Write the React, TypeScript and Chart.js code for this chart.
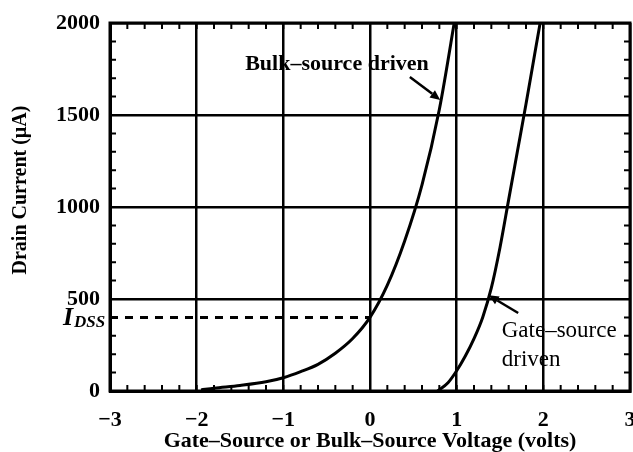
import React, { useEffect, useRef } from 'react';
import { Chart, registerables } from 'chart.js';

Chart.register(...registerables);

// ---- data ----
const bulkVolts = [-1.95, -1.8, -1.5, -1.2, -1.0, -0.8, -0.6, -0.4, -0.2, 0.0, 0.2, 0.4, 0.6, 0.8, 1.0];
const bulkCurrent = [6, 15, 30, 50, 72, 105, 145, 205, 285, 400, 575, 815, 1120, 1530, 2080];

const gateVolts = [0.78, 0.9, 1.0, 1.1, 1.2, 1.3, 1.4, 1.5, 1.6, 1.7, 1.8, 1.9, 2.0];
const gateCurrent = [0, 45, 110, 190, 285, 400, 560, 780, 1040, 1300, 1560, 1830, 2100];

const idssVolts = [-3, 0];
const idssCurrent = [400, 400];

const xTickValues = [-3, -2, -1, 0, 1, 2, 3];
const xTickLabels = ['\u22123', '\u22122', '\u22121', '0', '1', '2', '3'];
const yTickValues = [0, 500, 1000, 1500, 2000];
const yTickLabels = ['0', '500', '1000', '1500', '2000'];

const xTitle = 'Gate\u2013Source or Bulk\u2013Source Voltage (volts)';
const yTitle = 'Drain Current (\u00b5A)';
const bulkLabel = 'Bulk\u2013source driven';
const gateLabel1 = 'Gate\u2013source';
const gateLabel2 = 'driven';

const FONT = "'Liberation Serif', 'Times New Roman', serif";

function arrow(ctx: CanvasRenderingContext2D, x1: number, y1: number, x2: number, y2: number) {
  ctx.save();
  ctx.strokeStyle = '#000';
  ctx.fillStyle = '#000';
  ctx.lineWidth = 2.5;
  const ang = Math.atan2(y2 - y1, x2 - x1);
  const hl = 10;
  const bx = x2 - hl * Math.cos(ang);
  const by = y2 - hl * Math.sin(ang);
  ctx.beginPath();
  ctx.moveTo(x1, y1);
  ctx.lineTo(bx, by);
  ctx.stroke();
  ctx.beginPath();
  ctx.moveTo(x2, y2);
  ctx.lineTo(bx + 4.5 * Math.sin(ang), by - 4.5 * Math.cos(ang));
  ctx.lineTo(bx - 4.5 * Math.sin(ang), by + 4.5 * Math.cos(ang));
  ctx.closePath();
  ctx.fill();
  ctx.restore();
}

const decorPlugin = {
  id: 'decor',
  afterDraw(chart: any) {
    const { ctx, chartArea } = chart;
    const xs = chart.scales.x;
    const ys = chart.scales.y;
    const { left, right, top, bottom } = chartArea;
    ctx.save();
    // frame
    ctx.strokeStyle = '#000';
    ctx.lineWidth = 3;
    ctx.strokeRect(left, top, right - left, bottom - top);
    // minor ticks
    ctx.lineWidth = 2;
    ctx.beginPath();
    for (let i = 0; i <= 30; i++) {
      const px = xs.getPixelForValue(xs.min + i * 0.2);
      ctx.moveTo(px, bottom);
      ctx.lineTo(px, bottom - 6);
      ctx.moveTo(px, top);
      ctx.lineTo(px, top + 6);
    }
    for (let i = 0; i <= 20; i++) {
      const py = ys.getPixelForValue(ys.min + i * 100);
      ctx.moveTo(left, py);
      ctx.lineTo(left + 6, py);
      ctx.moveTo(right, py);
      ctx.lineTo(right - 6, py);
    }
    ctx.stroke();

    // annotations
    ctx.fillStyle = '#000';
    ctx.textBaseline = 'middle';
    ctx.textAlign = 'left';
    ctx.font = `bold 22px ${FONT}`;
    ctx.fillText(bulkLabel, xs.getPixelForValue(-1.44), ys.getPixelForValue(1777));
    ctx.font = `23px ${FONT}`;
    ctx.fillText(gateLabel1, xs.getPixelForValue(1.52), ys.getPixelForValue(326));
    ctx.fillText(gateLabel2, xs.getPixelForValue(1.52), ys.getPixelForValue(168));

    arrow(ctx, xs.getPixelForValue(0.46), ys.getPixelForValue(1707), xs.getPixelForValue(0.81), ys.getPixelForValue(1582));
    arrow(ctx, xs.getPixelForValue(1.71), ys.getPixelForValue(424), xs.getPixelForValue(1.37), ys.getPixelForValue(520));

    // I_DSS label
    const iy = ys.getPixelForValue(400);
    ctx.textBaseline = 'alphabetic';
    ctx.font = `italic bold 26px ${FONT}`;
    ctx.fillText('I', left - 47, iy + 8);
    ctx.font = `italic bold 17px ${FONT}`;
    ctx.fillText('DSS', left - 36, iy + 10);

    // y title
    ctx.translate(21, 190);
    ctx.rotate(-Math.PI / 2);
    ctx.textAlign = 'center';
    ctx.textBaseline = 'middle';
    ctx.font = `bold 20px ${FONT}`;
    ctx.fillText(yTitle, 0, 0);
    ctx.restore();
  },
};

export default function App() {
  const ref = useRef<HTMLCanvasElement | null>(null);
  useEffect(() => {
    document.body.style.margin = '0';
    if (!ref.current) return;
    const toXY = (xv: number[], yv: number[]) => xv.map((x, i) => ({ x, y: yv[i] }));
    const chart = new Chart(ref.current, {
      type: 'line',
      data: {
        datasets: [
          {
            label: 'Bulk-source driven',
            data: toXY(bulkVolts, bulkCurrent),
            borderColor: '#000',
            borderWidth: 3,
            pointRadius: 0,
            cubicInterpolationMode: 'monotone',
            fill: false,
          },
          {
            label: 'Gate-source driven',
            data: toXY(gateVolts, gateCurrent),
            borderColor: '#000',
            borderWidth: 3,
            pointRadius: 0,
            cubicInterpolationMode: 'monotone',
            fill: false,
          },
          {
            label: 'IDSS',
            data: toXY(idssVolts, idssCurrent),
            borderColor: '#000',
            borderWidth: 3,
            borderDash: [8, 7],
            pointRadius: 0,
            fill: false,
          },
        ],
      },
      plugins: [decorPlugin],
      options: {
        animation: false,
        responsive: false,
        devicePixelRatio: 1,
        layout: { padding: { top: 23, right: 3, left: 0, bottom: 0 } },
        plugins: { legend: { display: false }, tooltip: { enabled: false } },
        scales: {
          x: {
            type: 'linear',
            min: -3,
            max: 3,
            afterBuildTicks: (s: any) => {
              s.ticks = xTickValues.map((v) => ({ value: v }));
            },
            afterFit: (s: any) => {
              s.height = 61;
              s.paddingLeft = 0;
              s.paddingRight = 0;
            },
            ticks: {
              autoSkip: false,
              maxRotation: 0,
              minRotation: 0,
              padding: 18,
              color: '#000',
              font: { family: FONT, size: 22, weight: 'bold', lineHeight: 1 },
              callback: (v: any) => {
                const i = xTickValues.indexOf(Number(v));
                return i >= 0 ? xTickLabels[i] : '';
              },
            },
            grid: { color: '#000', lineWidth: 2.5, drawTicks: false, tickLength: 0 },
            border: { color: '#000', width: 3 },
            title: {
              display: true,
              text: xTitle,
              color: '#000',
              font: { family: FONT, size: 22, weight: 'bold', lineHeight: 1 },
              padding: { top: 0, bottom: 0 },
            },
          },
          y: {
            type: 'linear',
            min: 0,
            max: 2000,
            afterBuildTicks: (s: any) => {
              s.ticks = yTickValues.map((v) => ({ value: v }));
            },
            afterFit: (s: any) => {
              s.width = 110;
              s.paddingTop = 0;
              s.paddingBottom = 0;
            },
            ticks: {
              autoSkip: false,
              padding: 10,
              color: '#000',
              font: { family: FONT, size: 22, weight: 'bold', lineHeight: 1 },
              callback: (v: any) => {
                const i = yTickValues.indexOf(Number(v));
                return i >= 0 ? yTickLabels[i] : '';
              },
            },
            grid: { color: '#000', lineWidth: 2.5, drawTicks: false, tickLength: 0 },
            border: { color: '#000', width: 3 },
          },
        },
      },
    } as any);
    return () => chart.destroy();
  }, []);
  return (
    <div style={{ width: 633, height: 452, position: 'relative', background: '#fff' }}>
      <canvas ref={ref} width={633} height={452} style={{ display: 'block' }} />
    </div>
  );
}
